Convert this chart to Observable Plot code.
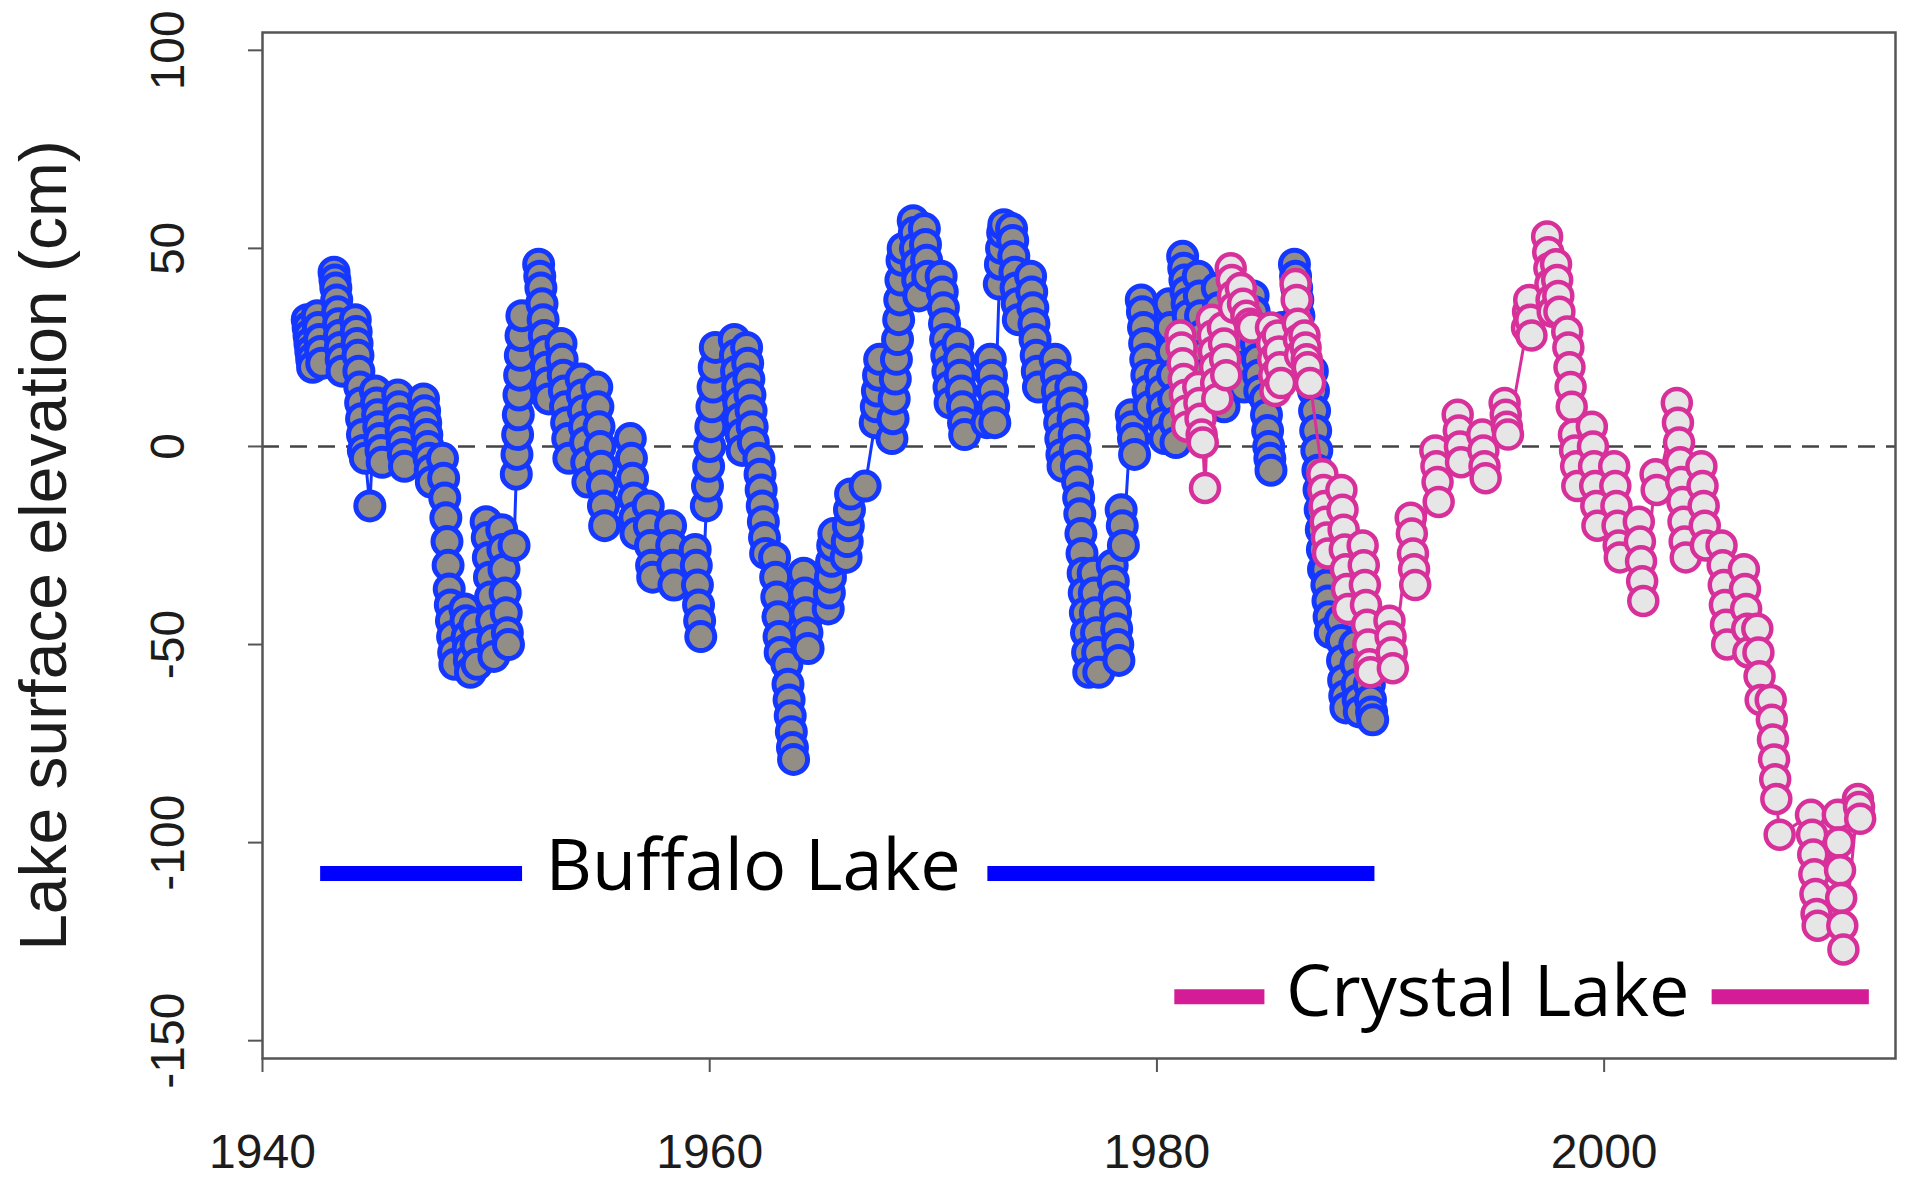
<!DOCTYPE html>
<html>
<head>
<meta charset="utf-8">
<script src="https://cdn.jsdelivr.net/npm/d3@7"></script>
<script src="https://cdn.jsdelivr.net/npm/@observablehq/plot@0.6"></script>
<style>
html, body { margin: 0; padding: 0; background: #ffffff; }
#chart svg { display: block; }
</style>
</head>
<body>
<div id="chart"></div>
<script>
// ---- Data: [decimal year, lake surface elevation (cm)] ----
const buffaloObs = [
  [1942.00,32],[1942.04,30],[1942.08,28],[1942.12,26],[1942.16,24],[1942.20,22],[1942.24,20],
  [1942.45,33],[1942.50,30],[1942.55,27],[1942.60,24],[1942.65,21],
  [1943.20,44],[1943.24,42],[1943.28,40],[1943.32,37],[1943.36,34],[1943.40,31],[1943.44,28],[1943.48,25],[1943.52,22],[1943.56,19],
  [1944.15,32],[1944.19,29],[1944.23,26],[1944.27,23],[1944.31,19],[1944.35,15],[1944.39,11],[1944.43,7],[1944.47,3],[1944.51,-1],[1944.60,-3],[1944.80,-15],
  [1945.05,14],[1945.10,11],[1945.15,8],[1945.20,5],[1945.25,2],[1945.30,-1],[1945.35,-4],
  [1946.05,13],[1946.10,10],[1946.15,7],[1946.20,4],[1946.25,1],[1946.30,-2],[1946.35,-5],
  [1947.20,12],[1947.25,9],[1947.30,6],[1947.35,3],[1947.40,0],[1947.45,-3],[1947.50,-6],[1947.55,-9],
  [1948.05,-3],[1948.10,-8],[1948.15,-13],[1948.20,-18],[1948.25,-24],[1948.30,-30],[1948.35,-36],[1948.40,-40],[1948.45,-44],[1948.50,-48],[1948.55,-52],[1948.60,-55],
  [1949.05,-41],[1949.10,-44],[1949.15,-48],[1949.20,-51],[1949.25,-54],[1949.30,-57],[1949.50,-45],[1949.55,-50],[1949.60,-55],
  [1950.00,-19],[1950.05,-23],[1950.10,-28],[1950.15,-33],[1950.20,-38],[1950.25,-44],[1950.30,-49],[1950.35,-53],
  [1950.70,-21],[1950.75,-26],[1950.80,-31],[1950.85,-37],[1950.90,-42],[1950.95,-47],[1951.00,-50],
  [1951.25,-25],
  [1951.35,-7],[1951.38,-2],[1951.41,3],[1951.44,8],[1951.47,13],[1951.50,18],[1951.53,23],[1951.56,28],[1951.60,33],
  [1952.35,46],[1952.40,43],[1952.45,40],[1952.50,36],[1952.55,32],[1952.60,28],[1952.65,24],[1952.70,20],[1952.75,16],[1952.80,12],
  [1953.35,26],[1953.40,22],[1953.45,18],[1953.50,14],[1953.55,10],[1953.60,6],[1953.65,2],[1953.70,-3],
  [1954.25,17],[1954.30,13],[1954.35,9],[1954.40,5],[1954.45,1],[1954.50,-4],[1954.55,-9],
  [1954.95,15],[1955.00,10],[1955.05,5],[1955.10,0],[1955.15,-5],[1955.20,-10],[1955.25,-15],[1955.30,-20],
  [1956.45,2],[1956.50,-3],[1956.55,-8],[1956.60,-13],[1956.65,-18],[1956.70,-22],
  [1957.25,-15],[1957.30,-20],[1957.35,-25],[1957.40,-30],[1957.45,-33],
  [1958.25,-20],[1958.30,-25],[1958.35,-30],[1958.40,-35],
  [1959.35,-26],[1959.40,-30],[1959.45,-35],[1959.50,-40],[1959.55,-44],[1959.60,-48],
  [1959.85,-15],[1959.90,-10],[1959.95,-5],[1960.00,0],[1960.05,5],[1960.10,10],[1960.15,15],[1960.20,20],[1960.25,25],
  [1961.10,27],[1961.15,23],[1961.20,19],[1961.25,15],[1961.30,11],[1961.35,7],[1961.40,3],[1961.45,-1],
  [1961.65,25],[1961.70,21],[1961.75,17],[1961.80,13],[1961.85,9],[1961.90,5],[1961.95,1],
  [1962.20,-3],[1962.25,-7],[1962.30,-11],[1962.35,-15],[1962.40,-19],[1962.45,-23],[1962.50,-27],
  [1962.90,-28],[1962.95,-33],[1963.00,-38],[1963.05,-43],[1963.10,-48],[1963.15,-52],
  [1963.45,-55],[1963.50,-60],[1963.55,-64],[1963.60,-68],[1963.65,-72],[1963.70,-76],[1963.75,-79],
  [1964.20,-32],[1964.25,-37],[1964.30,-42],[1964.35,-47],[1964.40,-51],
  [1965.30,-41],[1965.35,-37],[1965.40,-33],[1965.45,-29],[1965.50,-25],[1965.55,-22],
  [1966.10,-28],[1966.15,-24],[1966.20,-20],[1966.25,-16],[1966.30,-12],
  [1966.95,-10],
  [1967.40,6],[1967.45,10],[1967.50,14],[1967.55,18],[1967.60,22],
  [1968.15,2],[1968.20,7],[1968.25,12],[1968.30,17],[1968.35,22],[1968.40,27],[1968.45,32],[1968.50,37],[1968.55,42],[1968.60,47],[1968.65,50],
  [1969.10,57],[1969.15,54],[1969.20,50],[1969.25,46],[1969.30,42],[1969.35,38],
  [1969.60,55],[1969.65,51],[1969.70,47],[1969.75,43],
  [1970.35,43],[1970.40,39],[1970.45,35],[1970.50,31],[1970.55,27],[1970.60,23],[1970.65,19],[1970.70,15],[1970.75,11],
  [1971.10,26],[1971.15,22],[1971.20,18],[1971.25,14],[1971.30,10],[1971.35,6],[1971.40,3],
  [1972.40,6],[1972.55,22],[1972.60,18],[1972.65,14],[1972.70,10],[1972.75,6],
  [1972.95,41],[1973.00,46],[1973.05,50],[1973.10,54],[1973.15,56],
  [1973.50,55],[1973.55,52],[1973.60,48],[1973.65,44],[1973.70,40],[1973.75,36],[1973.80,32],
  [1974.35,43],[1974.40,39],[1974.45,35],[1974.50,31],[1974.55,27],[1974.60,23],[1974.65,19],[1974.70,15],
  [1975.45,22],[1975.50,18],[1975.55,14],[1975.60,10],[1975.65,6],[1975.70,2],[1975.75,-2],[1975.80,-5],
  [1976.15,15],[1976.20,11],[1976.25,7],[1976.30,3],[1976.35,-1],[1976.40,-5],[1976.45,-9],[1976.50,-13],
  [1976.55,-17],[1976.60,-22],[1976.65,-27],[1976.70,-32],[1976.75,-37],[1976.80,-42],[1976.85,-47],[1976.90,-52],[1976.95,-57],
  [1977.15,-32],[1977.20,-37],[1977.25,-42],[1977.30,-47],[1977.35,-52],[1977.40,-57],
  [1978.00,-30],[1978.05,-34],[1978.10,-38],[1978.15,-42],[1978.20,-46],[1978.25,-50],[1978.30,-54],
  [1978.40,-16],[1978.45,-20],[1978.50,-25],
  [1978.85,8],[1978.90,5],[1978.95,2],[1979.00,-2],
  [1979.30,37],[1979.35,34],[1979.40,30],[1979.45,26],[1979.50,22],[1979.55,18],[1979.60,14],[1979.65,10],
  [1980.15,18],[1980.20,14],[1980.25,10],[1980.30,6],[1980.35,2],
  [1980.55,36],[1980.60,30],[1980.65,24],[1980.70,18],[1980.75,12],[1980.80,6],[1980.85,1],
  [1981.15,48],[1981.20,45],[1981.25,42],[1981.30,39],[1981.35,36],[1981.40,33],
  [1981.85,43],[1981.90,38],[1981.95,33],[1982.00,28],[1982.05,23],[1982.10,18],[1982.15,13],
  [1982.70,40],[1982.75,35],[1982.80,30],[1982.85,25],[1982.90,20],[1982.95,15],[1983.00,10],
  [1983.70,35],[1983.75,30],[1983.80,25],[1983.85,20],[1983.90,15],
  [1984.30,38],[1984.35,34],[1984.40,30],[1984.45,26],[1984.50,22],[1984.55,18],[1984.60,14],
  [1984.85,12],[1984.90,8],[1984.95,4],[1985.00,0],[1985.05,-3],[1985.10,-6],
  [1985.60,30],[1985.65,26],[1985.70,22],[1985.75,18],
  [1986.15,46],[1986.20,43],[1986.25,40],[1986.30,37],[1986.35,33],[1986.40,29],[1986.45,25],[1986.50,21],
  [1986.95,19],[1987.00,14],[1987.05,9],[1987.10,4],[1987.15,-1],[1987.20,-6],[1987.25,-11],[1987.30,-16],[1987.35,-21],[1987.40,-26],[1987.45,-31],
  [1987.55,-31],[1987.60,-35],[1987.65,-39],[1987.70,-43],[1987.75,-47],
  [1988.20,-44],[1988.25,-49],[1988.30,-54],[1988.35,-59],[1988.40,-63],[1988.45,-66],
  [1988.85,-50],[1988.90,-55],[1988.95,-60],[1989.00,-64],[1989.05,-67],
  [1989.50,-60],[1989.55,-64],[1989.60,-67],[1989.65,-69]
];

const crystalObs = [
  [1981.05,28],[1981.10,25],[1981.15,21],[1981.20,17],[1981.25,13],[1981.30,9],[1981.35,5],
  [1981.85,15],[1981.90,11],[1981.95,7],[1982.00,3],[1982.05,1],[1982.15,-10.5],
  [1982.45,32],[1982.50,28],[1982.55,24],[1982.60,20],[1982.65,16],[1982.70,12],
  [1982.95,30],[1983.00,26],[1983.05,22],[1983.10,18],
  [1983.30,45],[1983.35,42],[1983.40,38],[1983.45,35],
  [1983.75,40],[1983.85,36],[1984.00,33],[1984.15,31],[1984.25,30],
  [1985.10,30],[1985.15,26],[1985.20,22],[1985.25,18],[1985.30,14],
  [1985.40,28],[1985.45,24],[1985.50,20],[1985.55,16],
  [1986.20,41],[1986.25,37],[1986.30,31],[1986.35,27],[1986.40,23],
  [1986.60,28],[1986.65,25],[1986.70,22],[1986.75,20],[1986.85,16],
  [1987.40,-7],[1987.45,-11],[1987.50,-15],[1987.55,-19],[1987.60,-23],[1987.65,-27],
  [1988.25,-11],[1988.30,-16],[1988.35,-21],[1988.40,-26],[1988.45,-31],[1988.50,-36],[1988.55,-41],
  [1989.20,-25],[1989.25,-30],[1989.30,-35],[1989.35,-40],[1989.40,-45],[1989.45,-50],[1989.50,-55],[1989.55,-57],
  [1990.40,-44],[1990.45,-48],[1990.50,-52],[1990.55,-56],
  [1991.35,-18],[1991.40,-22],[1991.45,-27],[1991.50,-31],[1991.55,-35],
  [1992.45,-1],[1992.50,-5],[1992.55,-9],[1992.60,-14],
  [1993.45,8],[1993.50,4],[1993.55,0],[1993.60,-4],
  [1994.55,3],[1994.60,-1],[1994.65,-5],[1994.70,-8],
  [1995.55,11],[1995.60,8],[1995.65,5],[1995.70,3],
  [1996.55,30],[1996.60,34],[1996.65,37],[1996.70,32],[1996.75,28],
  [1997.45,53],[1997.50,49],[1997.55,45],[1997.60,41],[1997.65,37],[1997.70,34],
  [1997.85,46],[1997.90,42],[1997.95,38],[1998.00,34],
  [1998.35,29],[1998.40,25],[1998.45,20],[1998.50,15],[1998.55,10],
  [1998.65,3],[1998.70,-1],[1998.75,-5],[1998.80,-10],
  [1999.45,5],[1999.50,0],[1999.55,-5],[1999.60,-10],[1999.65,-15],[1999.70,-20],
  [2000.45,-5],[2000.50,-10],[2000.55,-15],[2000.60,-20],[2000.65,-25],[2000.70,-28],
  [2001.55,-19],[2001.60,-24],[2001.65,-29],[2001.70,-34],[2001.75,-39],
  [2002.30,-7],[2002.35,-11],
  [2003.25,11],[2003.30,6],[2003.35,1],[2003.40,-4],[2003.45,-9],[2003.50,-14],[2003.55,-19],[2003.60,-24],[2003.65,-28],
  [2004.35,-5],[2004.40,-10],[2004.45,-15],[2004.50,-20],[2004.55,-25],
  [2005.25,-25],[2005.30,-30],[2005.35,-35],[2005.40,-40],[2005.45,-45],[2005.50,-50],
  [2006.25,-31],[2006.30,-36],[2006.35,-41],[2006.40,-46],[2006.45,-52],
  [2006.85,-46],[2006.90,-52],[2006.95,-58],[2007.00,-64],
  [2007.45,-64],[2007.50,-69],[2007.55,-74],[2007.60,-79],[2007.65,-84],[2007.70,-89],
  [2007.85,-98],
  [2009.25,-93],[2009.30,-98],[2009.35,-103],[2009.40,-108],[2009.45,-113],[2009.50,-118],[2009.55,-121],
  [2010.45,-93],[2010.50,-100],[2010.55,-107],[2010.60,-114],[2010.65,-121],[2010.70,-127],
  [2011.35,-89],[2011.40,-91],[2011.45,-94]
];

const xTicks = [1940, 1960, 1980, 2000];
const yTicks = [100, 50, 0, -50, -100, -150];
const yTitle = "Lake surface elevation (cm)";
const lakeNames = ["Buffalo Lake", "Crystal Lake"];

// ---- Layout / style ----
const blueStroke = "#1438ff", blueFill = "#928d85", blueKey = "#0000ff";
const pinkStroke = "#d8309a", pinkFill = "#e6e6e6", pinkKey = "#d41c96";
const axisColor = "#555555", textColor = "#1c1c1c";
const tickFont = "'Liberation Sans', Arial, Helvetica, sans-serif";
const keyFont = "'Open Sans', 'Noto Sans', sans-serif";

// legend keys, placed in data coordinates (bars span each record, name in a gap)
const legendBars = [
  {x1: 1942.6, x2: 1951.63, y: -107.8, c: blueKey},
  {x1: 1972.44, x2: 1989.75, y: -107.8, c: blueKey},
  {x1: 1980.8, x2: 1984.83, y: -138.9, c: pinkKey},
  {x1: 2004.83, x2: 2011.86, y: -138.9, c: pinkKey}
];
const legendText = [
  {x: 1952.66, y: -111.9, t: lakeNames[0]},
  {x: 1985.77, y: -143.7, t: lakeNames[1]}
];

const X = d => d[0], Y = d => d[1];

const chart = Plot.plot({
  width: 1906,
  height: 1177,
  marginLeft: 262,
  marginRight: 11,
  marginTop: 32,
  marginBottom: 119,
  style: {background: "#ffffff", overflow: "visible"},
  x: {domain: [1940, 2013.03]},
  y: {domain: [-154.5, 104.5]},
  marks: [
    Plot.ruleY([0], {stroke: "#444444", strokeWidth: 2.5, strokeDasharray: "17,11"}),
    Plot.line(buffaloObs, {x: X, y: Y, stroke: blueStroke, strokeWidth: 3}),
    Plot.dot(buffaloObs, {x: X, y: Y, r: 14, fill: blueFill, stroke: blueStroke, strokeWidth: 5}),
    Plot.line(crystalObs, {x: X, y: Y, stroke: pinkStroke, strokeWidth: 3}),
    Plot.dot(crystalObs, {x: X, y: Y, r: 14, fill: pinkFill, stroke: pinkStroke, strokeWidth: 4.5}),
    Plot.ruleY(legendBars, {x1: "x1", x2: "x2", y: "y", stroke: "c", strokeWidth: 15}),
    Plot.text(legendText, {x: "x", y: "y", text: "t", textAnchor: "start", lineAnchor: "bottom",
      fontFamily: keyFont, fontSize: 72, fill: "#000000"}),
    Plot.frame({stroke: axisColor, strokeWidth: 2.5}),
    Plot.axisX({ticks: xTicks, tickSize: 14, tickFormat: () => "", label: null, stroke: axisColor, strokeWidth: 2}),
    Plot.axisY({ticks: yTicks, tickSize: 14, tickFormat: () => "", label: null, stroke: axisColor, strokeWidth: 2}),
    Plot.text(xTicks, {x: d => d, text: d => String(d), frameAnchor: "bottom", dy: 94, lineAnchor: "middle",
      fontFamily: tickFont, fontSize: 48, fill: textColor}),
    Plot.text(yTicks, {y: d => d, text: d => String(d), frameAnchor: "left", dx: -94, rotate: -90,
      textAnchor: "middle", lineAnchor: "middle", fontFamily: tickFont, fontSize: 48, fill: textColor}),
    Plot.text([yTitle], {text: d => d, frameAnchor: "left", dx: -218, rotate: -90,
      textAnchor: "middle", lineAnchor: "middle", fontFamily: tickFont, fontSize: 66, fill: textColor})
  ]
});

document.getElementById("chart").appendChild(chart);
</script>
</body>
</html>
